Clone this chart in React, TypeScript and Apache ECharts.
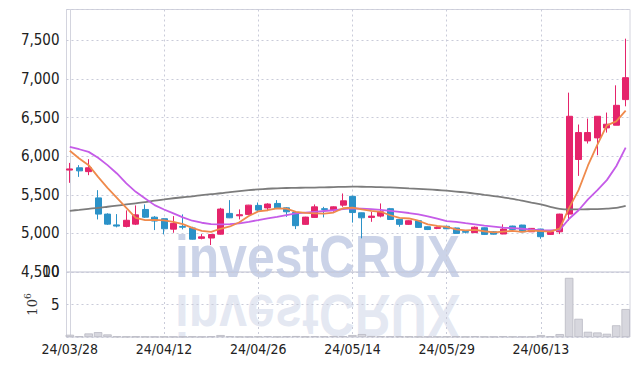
import React, { useEffect, useRef } from 'react';
import * as echarts from 'echarts';

const dates = ['24/03/28','24/03/29','24/04/01','24/04/02','24/04/03','24/04/04','24/04/05','24/04/08','24/04/09','24/04/11','24/04/12','24/04/15','24/04/16','24/04/17','24/04/18','24/04/19','24/04/22','24/04/23','24/04/24','24/04/25','24/04/26','24/04/29','24/04/30','24/05/02','24/05/03','24/05/07','24/05/08','24/05/09','24/05/10','24/05/13','24/05/14','24/05/16','24/05/17','24/05/20','24/05/21','24/05/22','24/05/23','24/05/24','24/05/27','24/05/28','24/05/29','24/05/30','24/05/31','24/06/03','24/06/04','24/06/05','24/06/07','24/06/10','24/06/11','24/06/12','24/06/13','24/06/14','24/06/17','24/06/18','24/06/19','24/06/20','24/06/21','24/06/24','24/06/25','24/06/26'];

const opens = [5820,5850,5800,5460,5250,5110,5090,5120,5310,5210,5190,5055,5090,5070,4936,4940,4990,5259,5228,5246,5362,5330,5388,5331,5272,5117,5207,5320,5302,5366,5480,5267,5207,5224,5320,5181,5117,5164,5086,5065,5092,5070,5025,5010,5073,5021,4992,5095,5108,5021,5056,4987,5021,5250,5957,6198,6237,6366,6401,6733];
const closes = [5835,5810,5850,5250,5120,5095,5170,5240,5210,5160,5060,5130,5080,4925,4955,4985,5315,5202,5242,5366,5302,5380,5331,5280,5100,5211,5344,5310,5344,5422,5270,5202,5224,5280,5180,5117,5164,5078,5050,5078,5060,5000,5015,5080,4987,4990,5056,5052,5021,5065,4957,5021,5250,6517,6306,6306,6517,6414,6659,7017];
const lows = [5655,5732,5754,5181,5110,5078,5078,5108,5200,5043,4987,5008,5052,4920,4923,4849,4985,5198,5181,5244,5290,5289,5315,5215,5056,5110,5200,5207,5280,5344,5140,4936,5150,5207,5175,5086,5110,5070,5043,5055,5056,4995,5000,5008,4980,4985,4990,5048,5018,5018,4930,4980,4991,5164,5745,6164,6013,6306,6401,6646];
const highs = [5913,5884,5961,5560,5260,5250,5298,5362,5375,5224,5194,5224,5246,5086,4991,4990,5331,5431,5311,5370,5400,5390,5431,5340,5275,5215,5375,5344,5350,5517,5490,5270,5280,5388,5330,5185,5170,5170,5090,5090,5100,5075,5040,5090,5078,5030,5117,5100,5112,5070,5060,5025,5255,6823,6410,6487,6520,6565,6918,7522];

const volumes = [0.35,0.12,0.55,0.75,0.4,0.08,0.06,0.07,0.06,0.05,0.06,0.05,0.06,0.07,0.05,0.1,0.3,0.12,0.06,0.05,0.08,0.12,0.06,0.1,0.15,0.08,0.12,0.1,0.15,0.12,0.3,0.45,0.15,0.12,0.1,0.1,0.08,0.06,0.05,0.06,0.08,0.1,0.06,0.12,0.06,0.05,0.1,0.06,0.05,0.06,0.3,0.1,0.45,9.1,2.8,0.8,0.7,0.5,1.8,4.3];

const ma5 = [6070,5970,5884,5732,5590,5460,5330,5200,5172,5175,5168,5150,5120,5071,5034,5020,5060,5090,5145,5225,5285,5300,5323,5320,5280,5265,5260,5255,5270,5326,5335,5310,5292,5280,5235,5201,5193,5164,5118,5096,5085,5052,5040,5046,5028,5014,5024,5032,5020,5035,5029,5023,5062,5330,5560,5880,6150,6400,6450,6590];
const ma10 = [6120,6090,6056,5980,5884,5776,5647,5538,5453,5366,5310,5259,5207,5164,5138,5121,5118,5120,5130,5150,5172,5195,5215,5238,5259,5270,5280,5290,5300,5315,5324,5320,5315,5305,5293,5280,5264,5245,5220,5190,5160,5148,5132,5118,5100,5088,5076,5068,5060,5050,5043,5040,5045,5190,5300,5440,5560,5690,5870,6110];
const ma60 = [5293,5305,5318,5330,5345,5360,5375,5390,5405,5425,5440,5455,5468,5480,5495,5508,5520,5535,5548,5560,5570,5578,5584,5588,5590,5592,5594,5596,5600,5603,5605,5604,5602,5599,5595,5590,5583,5577,5570,5562,5553,5542,5530,5516,5500,5484,5466,5448,5425,5400,5375,5345,5318,5310,5311,5313,5315,5320,5330,5357];

const dateTicks = [0, 10, 20, 30, 40, 50];
const priceMin = 4500;
const priceMax = 7900;
const priceStep = 500;
const volMax = 10;
const volStep = 5;

const UP = '#e5246b';
const DOWN = '#2b92c8';
const LABEL_FONT = "'Liberation Sans Narrow', 'DejaVu Sans Condensed', Roboto, sans-serif";
const GRID_LINE = '#c9cbd9';

export default function App() {
  const ref = useRef<HTMLDivElement>(null);
  useEffect(() => {
    const chart = echarts.init(ref.current!, null, { renderer: 'svg' });
    const candle = dates.map((_, i) => [i, opens[i], closes[i], lows[i], highs[i]]);
    const toXY = (arr: number[]) => arr.map((v, i) => [i, v]);
    const xCommon = {
      type: 'value',
      min: -0.35,
      max: 59.46,
      axisLine: { show: false },
      axisTick: { show: false, customValues: dateTicks },
      splitLine: { show: true, lineStyle: { color: GRID_LINE, type: [2, 3], width: 1 } },
    };
    const wmStyle = {
      text: 'investCRUX',
      fontSize: 60,
      fontWeight: 'bold',
      fontFamily: "'Liberation Sans', Arial, sans-serif",
      verticalAlign: 'bottom',
    };
    const option: any = {
      animation: false,
      backgroundColor: '#ffffff',
      grid: [
        { left: 66.5, right: 9, top: 9.5, height: 262.5, show: true, borderColor: '#d3d4de', borderWidth: 1 },
        { left: 66.5, right: 9, top: 272, height: 65, show: true, borderColor: '#d3d4de', borderWidth: 1 },
      ],
      graphic: [
        {
          type: 'group',
          left: 175,
          top: 226,
          z: 1,
          silent: true,
          children: [
            {
              type: 'text', x: 0, y: 52, scaleX: 0.83,
              style: { ...wmStyle, fill: 'rgba(188,198,226,0.78)' },
            },
            {
              type: 'text', x: 0, y: 52, scaleX: 0.83, scaleY: -1,
              style: { ...wmStyle, fill: 'rgba(205,212,232,0.55)' },
            },
          ],
        },
      ],
      xAxis: [
        { ...xCommon, gridIndex: 0, axisLabel: { show: false, customValues: dateTicks } },
        {
          ...xCommon,
          gridIndex: 1,
          axisLabel: {
            show: true,
            customValues: dateTicks,
            formatter: (v: number) => dates[Math.round(v)] ?? '',
            color: '#222',
            fontSize: 14,
            fontFamily: LABEL_FONT,
            margin: 5,
          },
        },
      ],
      yAxis: [
        {
          type: 'value',
          gridIndex: 0,
          min: priceMin,
          max: priceMax,
          interval: priceStep,
          axisLine: { show: true, lineStyle: { color: '#d3d4de' } },
          axisTick: { show: false },
          axisLabel: {
            showMaxLabel: false,
            color: '#222',
            fontSize: 15,
            fontFamily: LABEL_FONT,
            margin: 7,
            formatter: (v: number) => v.toLocaleString('en-US'),
          },
          splitLine: { show: true, lineStyle: { color: GRID_LINE, type: [2, 3], width: 1 } },
        },
        {
          type: 'value',
          gridIndex: 1,
          min: 0,
          max: volMax,
          interval: volStep,
          name: '{a|10}{b|6}',
          nameLocation: 'middle',
          nameGap: 26,
          nameRotate: 90,
          nameMoveOverlap: false,
          nameTextStyle: {
            fontSize: 13,
            rich: {
              a: { fontSize: 13, fontFamily: "'DejaVu Serif', serif", color: '#333' },
              b: { fontSize: 9, fontFamily: "'DejaVu Serif', serif", color: '#333', verticalAlign: 'top', padding: [0, 0, 8, 0] },
            },
          },
          axisLine: { show: true, lineStyle: { color: '#d3d4de' } },
          axisTick: { show: false },
          axisLabel: {
            showMinLabel: false,
            color: '#222',
            fontSize: 15,
            fontFamily: LABEL_FONT,
            margin: 7,
          },
          splitLine: { show: true, lineStyle: { color: GRID_LINE, type: [2, 3], width: 1 } },
        },
      ],
      series: [
        {
          type: 'candlestick',
          xAxisIndex: 0,
          yAxisIndex: 0,
          data: candle,
          barWidth: 6.5,
          itemStyle: { color: UP, color0: DOWN, borderColor: UP, borderColor0: DOWN, borderWidth: 1 },
        },
        {
          type: 'line', xAxisIndex: 0, yAxisIndex: 0, data: toXY(ma60), showSymbol: false, smooth: 0.3,
          lineStyle: { color: '#7c7c7c', width: 1.8 },
        },
        {
          type: 'line', xAxisIndex: 0, yAxisIndex: 0, data: toXY(ma10), showSymbol: false,
          lineStyle: { color: '#c55ce8', width: 1.8 },
        },
        {
          type: 'line', xAxisIndex: 0, yAxisIndex: 0, data: toXY(ma5), showSymbol: false,
          lineStyle: { color: '#ef8a4c', width: 1.8 },
        },
        {
          type: 'bar',
          xAxisIndex: 1,
          yAxisIndex: 1,
          data: toXY(volumes),
          barWidth: 8.5,
          itemStyle: { color: '#d7d7de', borderColor: '#b9b9c3', borderWidth: 0.8 },
        },
      ],
    };
    chart.setOption(option);
    return () => chart.dispose();
  }, []);
  return <div ref={ref} style={{ position: 'fixed', left: 0, top: 0, width: 639, height: 366 }} />;
}
